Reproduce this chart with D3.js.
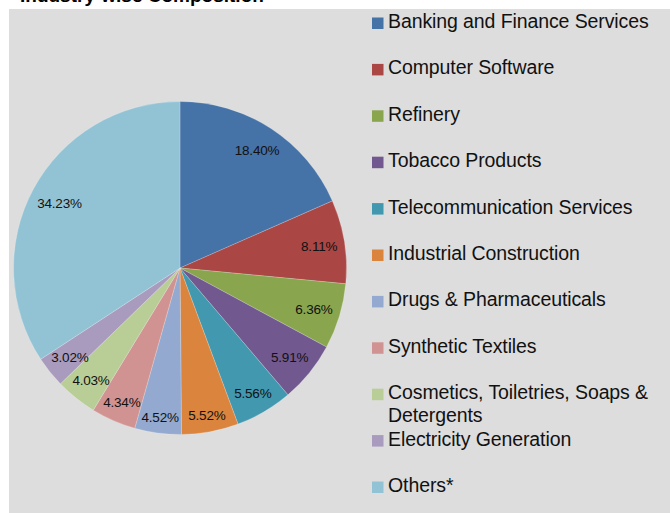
<!DOCTYPE html>
<html>
<head>
<meta charset="utf-8">
<script src="https://cdn.jsdelivr.net/npm/d3@7/dist/d3.min.js"></script>
<style>
  html, body { margin: 0; padding: 0; background: #ffffff; }
  svg { display: block; font-family: "Liberation Sans", Arial, sans-serif; }
</style>
</head>
<body>
<svg id="chart" width="670" height="513"></svg>
<script>
// Industry-wise composition (share of total, %)
const categories = [
  "Banking and Finance Services",
  "Computer Software",
  "Refinery",
  "Tobacco Products",
  "Telecommunication Services",
  "Industrial Construction",
  "Drugs & Pharmaceuticals",
  "Synthetic Textiles",
  "Cosmetics, Toiletries, Soaps & Detergents",
  "Electricity Generation",
  "Others*"
];
const shares = [18.40, 8.11, 6.36, 5.91, 5.56, 5.52, 4.52, 4.34, 4.03, 3.02, 34.23];
const palette = [
  "#4572a7", "#aa4643", "#89a54e", "#71588f", "#4198af", "#db843d",
  "#93a9cf", "#d19392", "#b9cd96", "#a99bbd", "#92c3d5"
];
const titleText = "Industry-wise Composition";

const svg = d3.select("#chart");
const W = 670, H = 513;

// chart area background
svg.append("rect")
  .attr("x", 9).attr("y", 9)
  .attr("width", W - 9).attr("height", H - 9)
  .attr("fill", "#dddddd");

// title (sits mostly above the visible frame)
svg.append("text")
  .attr("x", 20).attr("y", 2)
  .attr("font-size", 19).attr("font-weight", "bold")
  .attr("fill", "#000")
  .text(titleText);

// pie
const cx = 180, cy = 268, R = 166.5;
const color = d3.scaleOrdinal().domain(categories).range(palette);
const pie = d3.pie().value(d => d.value).sort(null);
const arcs = pie(categories.map((c, i) => ({ name: c, value: shares[i] })));
const arcGen = d3.arc().innerRadius(0).outerRadius(R);

const g = svg.append("g").attr("transform", `translate(${cx},${cy})`);
g.selectAll("path.slice")
  .data(arcs)
  .enter().append("path")
  .attr("class", "slice")
  .attr("d", arcGen)
  .attr("fill", d => color(d.data.name))
  .attr("stroke", "#ffffff")
  .attr("stroke-opacity", 0.35)
  .attr("stroke-width", 0.6);

// value labels placed at the inner side of the rim ("inside end")
const labels = g.selectAll("text.val")
  .data(arcs)
  .enter().append("text")
  .attr("class", "val")
  .attr("font-size", 13.5)
  .attr("letter-spacing", -0.2)
  .attr("fill", "#111")
  .attr("text-anchor", "middle")
  .attr("dominant-baseline", "central")
  .text(d => d3.format(".2f")(d.data.value) + "%");

labels.each(function(d) {
  const w = this.getComputedTextLength() / 2;
  const h = 7.5;
  const a = (d.startAngle + d.endAngle) / 2;
  const ux = Math.sin(a), uy = -Math.cos(a);
  const limit = R - 6;
  let dist = R;
  for (; dist > 0; dist -= 0.5) {
    const px = dist * ux, py = dist * uy;
    const far = Math.hypot(Math.abs(px) + w, Math.abs(py) + h);
    if (far <= limit) break;
  }
  d3.select(this)
    .attr("x", dist * ux)
    .attr("y", dist * uy + 1);
});

// legend
const legendX = 372, legendTop = 28, rowStep = 46.4, lineH = 23;
const legend = svg.append("g");
const rows = legend.selectAll("g.row")
  .data(categories)
  .enter().append("g")
  .attr("class", "row")
  .attr("transform", (d, i) => `translate(${legendX},${legendTop + i * rowStep})`);

rows.append("rect")
  .attr("x", 0).attr("y", -10.5)
  .attr("width", 11.5).attr("height", 11.5)
  .attr("fill", d => color(d));

rows.append("text")
  .attr("x", 16).attr("y", 0)
  .attr("font-size", 19.5)
  .attr("letter-spacing", -0.1)
  .attr("fill", "#111")
  .each(function(d) {
    const t = d3.select(this);
    const parts = d === "Cosmetics, Toiletries, Soaps & Detergents"
      ? ["Cosmetics, Toiletries, Soaps &", "Detergents"]
      : [d];
    parts.forEach((p, k) => {
      t.append("tspan").attr("x", 16).attr("dy", k === 0 ? 0 : lineH).text(p);
    });
  });
</script>
</body>
</html>
